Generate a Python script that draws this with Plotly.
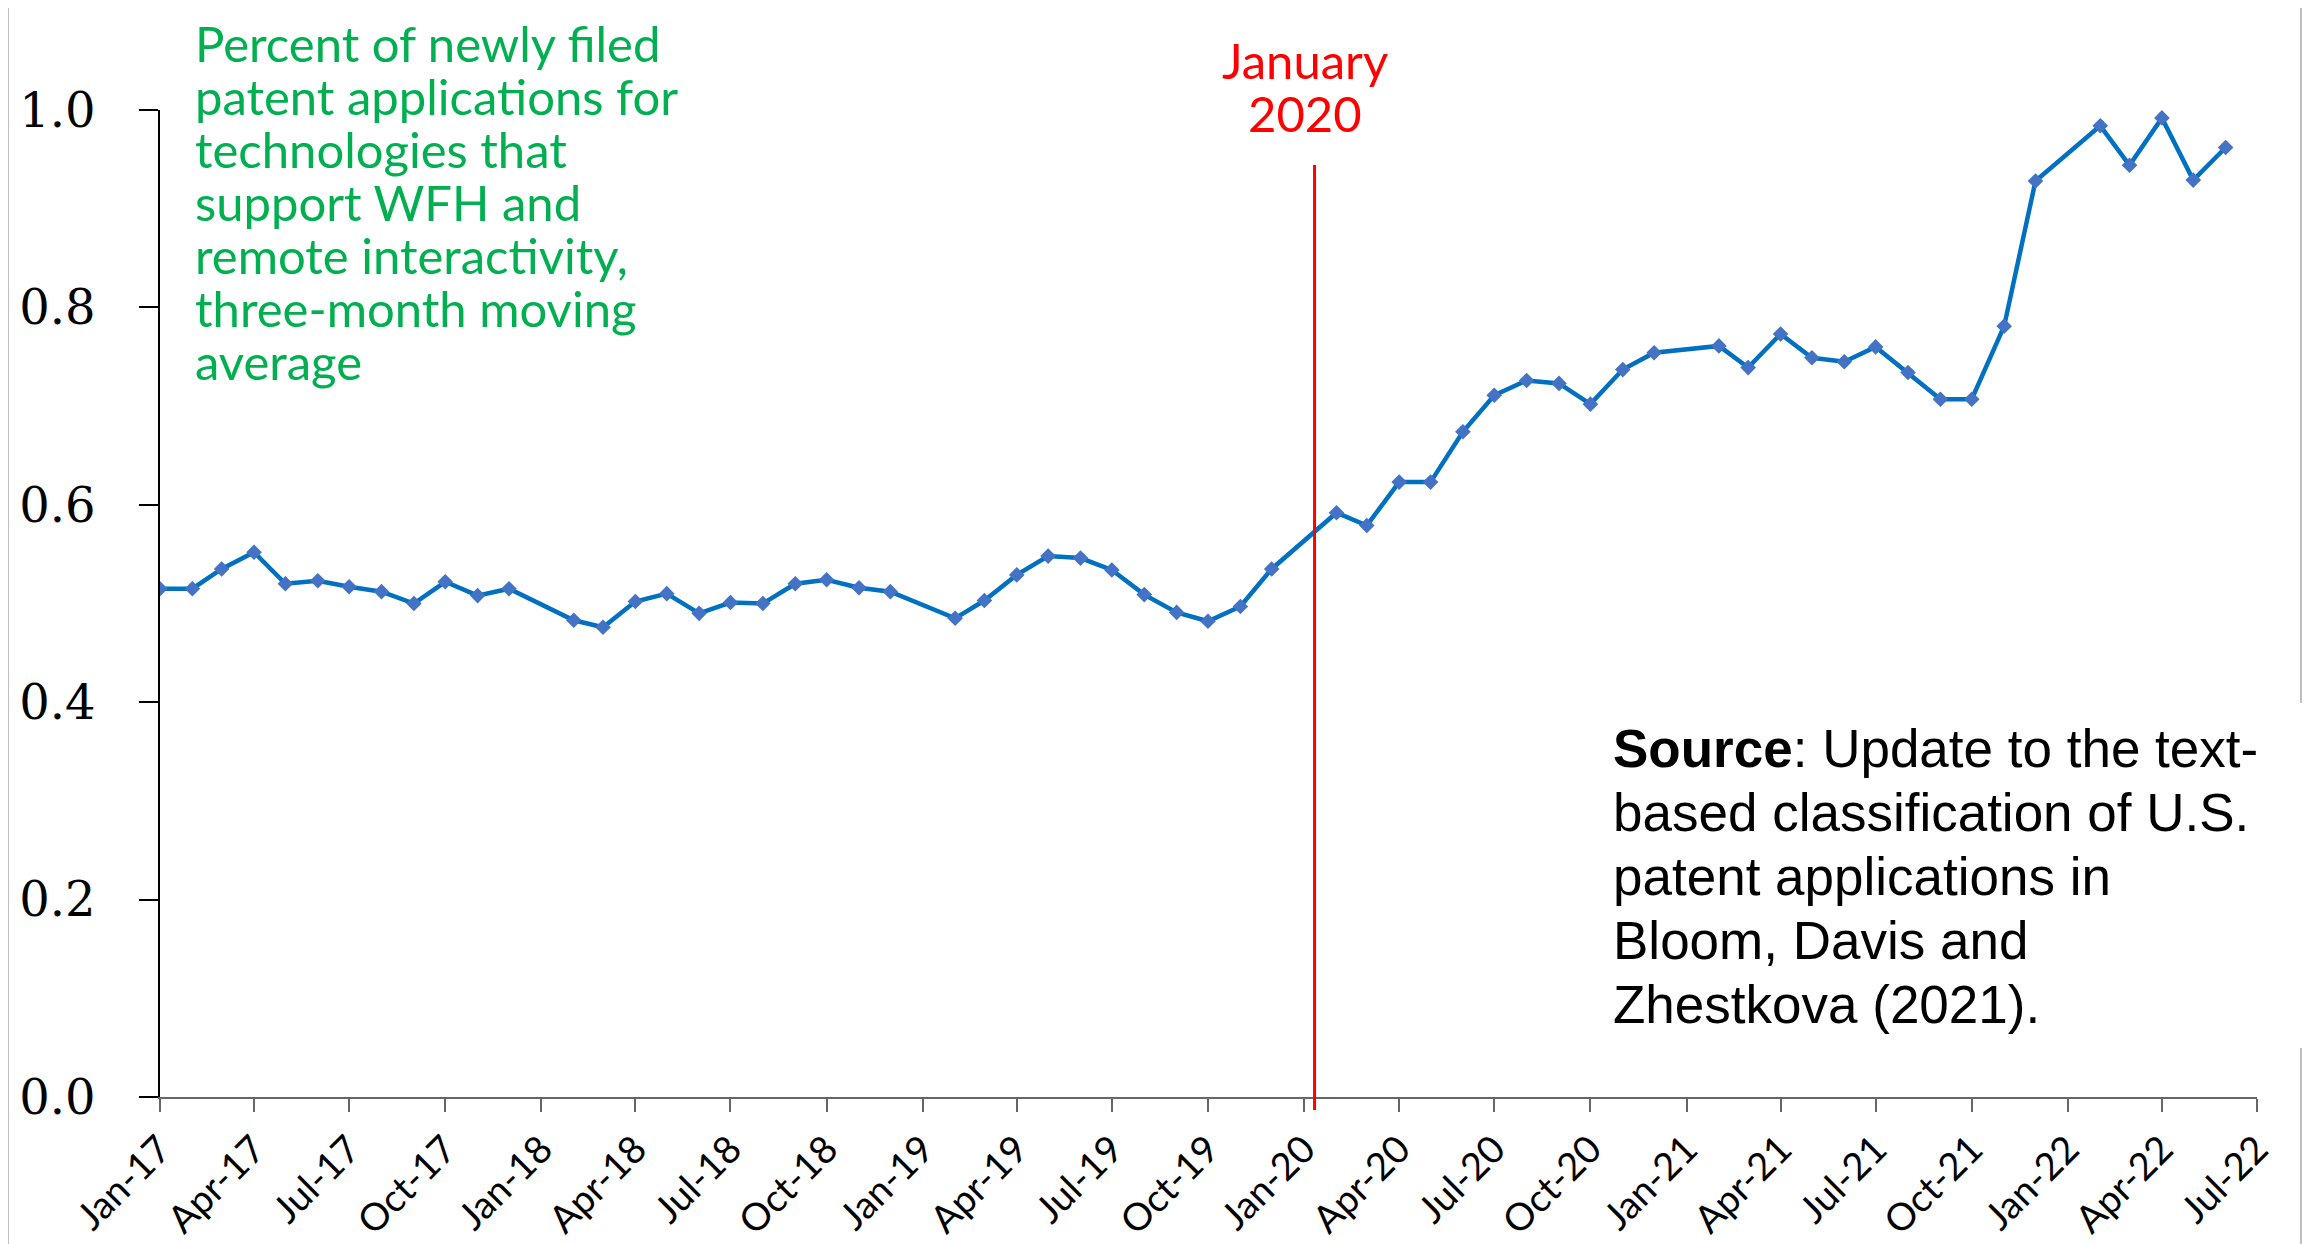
import plotly.graph_objs as go

# monthly three-month moving average (January months after 2017 are absent)
months = [
    '2017-01-01', '2017-02-01', '2017-03-01', '2017-04-01', '2017-05-01', '2017-06-01',
    '2017-07-01', '2017-08-01', '2017-09-01', '2017-10-01', '2017-11-01', '2017-12-01',
    '2018-02-01', '2018-03-01', '2018-04-01', '2018-05-01', '2018-06-01', '2018-07-01',
    '2018-08-01', '2018-09-01', '2018-10-01', '2018-11-01', '2018-12-01',
    '2019-02-01', '2019-03-01', '2019-04-01', '2019-05-01', '2019-06-01', '2019-07-01',
    '2019-08-01', '2019-09-01', '2019-10-01', '2019-11-01', '2019-12-01',
    '2020-02-01', '2020-03-01', '2020-04-01', '2020-05-01', '2020-06-01', '2020-07-01',
    '2020-08-01', '2020-09-01', '2020-10-01', '2020-11-01', '2020-12-01',
    '2021-02-01', '2021-03-01', '2021-04-01', '2021-05-01', '2021-06-01', '2021-07-01',
    '2021-08-01', '2021-09-01', '2021-10-01', '2021-11-01', '2021-12-01',
    '2022-02-01', '2022-03-01', '2022-04-01', '2022-05-01', '2022-06-01',
]
wfh_share = [
    0.515, 0.515, 0.535, 0.552, 0.520, 0.523,
    0.517, 0.512, 0.500, 0.522, 0.508, 0.515,
    0.483, 0.476, 0.502, 0.510, 0.490, 0.501,
    0.500, 0.520, 0.524, 0.516, 0.512,
    0.485, 0.503, 0.529, 0.548, 0.546, 0.534,
    0.509, 0.491, 0.482, 0.497, 0.535,
    0.592, 0.579, 0.623, 0.623, 0.674, 0.711,
    0.726, 0.723, 0.702, 0.737, 0.754,
    0.761, 0.739, 0.773, 0.749, 0.745, 0.760,
    0.734, 0.707, 0.707, 0.781, 0.928,
    0.984, 0.944, 0.992, 0.929, 0.962,
]

x_range = ['2017-01-01', '2022-07-01']
y_range = [0, 1.0]
event_date = '2020-01-11'

note_lines = [
    'Percent of newly filed',
    'patent applications for',
    'technologies that',
    'support WFH and',
    'remote interactivity,',
    'three-month moving',
    'average',
]
event_lines = ['January', '2020']
source_lines = [
    '<b>Source</b>: Update to the text-',
    'based classification of U.S.',
    'patent applications in',
    'Bloom, Davis and',
    'Zhestkova (2021).',
]

W, H = 2315, 1244
PAGE_OFF = 8  # default body margin of the html page
PLOT_LEFT, PLOT_TOP, PLOT_W, PLOT_H = 160, 110, 2097, 987
L = PLOT_LEFT - PAGE_OFF
T = PLOT_TOP - PAGE_OFF
R = W - L - PLOT_W
B = H - T - PLOT_H


def px_x(px):
    return (px - PLOT_LEFT) / PLOT_W


def px_y(py):
    return (PLOT_TOP + PLOT_H - py) / PLOT_H


trace1 = go.Scatter(
    x=months,
    y=wfh_share,
    mode='lines+markers',
    line=dict(color='#0070C0', width=4.5),
    marker=dict(symbol='diamond', size=12, color='#4472C4'),
    showlegend=False,
)

annotations = []
for i, txt in enumerate(note_lines):
    annotations.append(dict(
        x=px_x(193), y=px_y(43 + 53 * i), xref='paper', yref='paper',
        text=txt, showarrow=False, xanchor='left', yanchor='middle',
        font=dict(family='Lato', size=49, color='#00B050'),
    ))
for i, txt in enumerate(event_lines):
    annotations.append(dict(
        x=px_x(1305), y=px_y(60 + 53 * i), xref='paper', yref='paper',
        text=txt, showarrow=False, xanchor='center', yanchor='middle',
        font=dict(family='Lato', size=49, color='#FF0000'),
    ))
for i, txt in enumerate(source_lines):
    annotations.append(dict(
        x=px_x(1611), y=px_y(748 + 64 * i), xref='paper', yref='paper',
        text=txt, showarrow=False, xanchor='left', yanchor='middle',
        font=dict(family='Liberation Sans', size=53, color='black'),
    ))

shapes = [
    # outer chart border
    dict(type='rect', xref='paper', yref='paper',
         x0=px_x(8), x1=px_x(2301), y0=px_y(1270), y1=px_y(7),
         line=dict(color='#BFBFBF', width=2), fillcolor='rgba(0,0,0,0)'),
    # text box of the source note covers the border
    dict(type='rect', xref='paper', yref='paper',
         x0=px_x(2285), x1=px_x(2320), y0=px_y(1048), y1=px_y(703),
         line=dict(width=0), fillcolor='white'),
    # January 2020 marker line
    dict(type='line', xref='x', yref='paper',
         x0=event_date, x1=event_date, y0=px_y(1110), y1=px_y(165),
         line=dict(color='#FF0000', width=3)),
]

layout = go.Layout(
    width=W, height=H,
    margin=dict(l=L, r=R, t=T, b=B, autoexpand=False),
    plot_bgcolor='white', paper_bgcolor='white',
    xaxis=dict(
        type='date', range=x_range, tick0='2017-01-01', dtick='M3',
        tickformat='%b-%y', tickangle=-45,
        ticks='outside', ticklen=13, tickwidth=1.5, tickcolor='#666666',
        showline=True, linecolor='#666666', linewidth=1.5,
        showgrid=False, zeroline=False, ticklabelstandoff=0,
        tickfont=dict(family='Lato', size=38, color='black'),
    ),
    xaxis2=dict(
        type='date', range=x_range, tick0='2017-01-01', dtick='M3',
        overlaying='x', anchor='y', side='bottom',
        ticks='inside', ticklen=13, tickwidth=1.5, tickcolor='#666666',
        showticklabels=False, showline=False, showgrid=False, zeroline=False,
    ),
    yaxis=dict(
        range=y_range, dtick=0.2, tickformat='.1f',
        ticks='outside', ticklen=19, tickwidth=1.5, tickcolor='black',
        showline=True, linecolor='black', linewidth=1.5,
        showgrid=False, zeroline=False, ticklabelstandoff=34,
        tickfont=dict(family='DejaVu Serif', size=48, color='black'),
    ),
    yaxis2=dict(
        range=y_range, dtick=0.2, overlaying='y', anchor='x', side='left',
        ticks='inside', ticklen=19, tickwidth=1.5, tickcolor='black',
        showticklabels=False, showline=False, showgrid=False, zeroline=False,
    ),
    annotations=annotations,
    shapes=shapes,
)

fig = go.Figure(data=[trace1], layout=layout)
fig.write_html('out.html')
